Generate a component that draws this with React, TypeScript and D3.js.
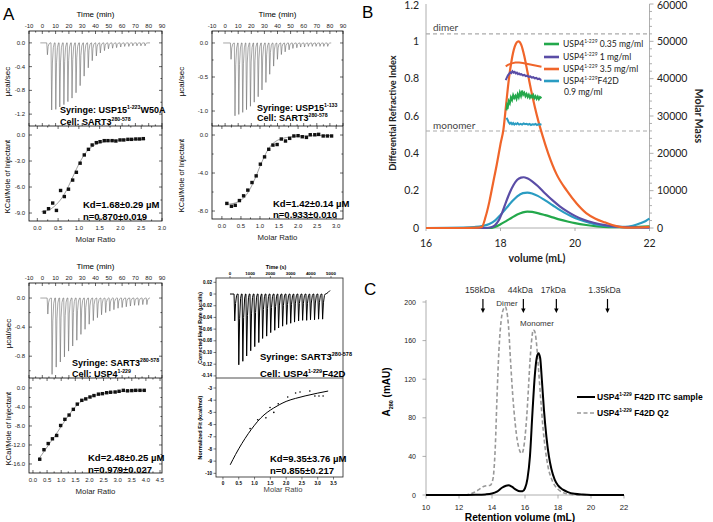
import React from "react";
import * as d3 from "d3";

type Pt = [number, number];

const SANS = "'Liberation Sans', Arial, Helvetica, sans-serif";
const CALI = "Lato, 'Open Sans', sans-serif";

/* ================= Panel A : ITC data ================= */
// A1  Syringe USP15(1-223)W50A / Cell SART3(280-578)
const a1InjTime = [3.5, 6.7, 9.8, 12.8, 15.9, 18.9, 22.0, 25.0, 28.1, 31.1, 34.2, 37.2, 40.3, 43.3, 46.4, 49.4, 52.5, 55.5, 58.6, 61.6, 64.7, 67.7, 70.8, 73.8, 76.9];
const a1InjPeak = [-0.2, -1.13, -1.12, -1.08, -1.04, -0.99, -0.93, -0.84, -0.72, -0.56, -0.42, -0.3, -0.22, -0.17, -0.13, -0.1, -0.09, -0.08, -0.07, -0.06, -0.06, -0.05, -0.05, -0.05, -0.05];
const a1Ratio = [0.17, 0.27, 0.37, 0.46, 0.56, 0.65, 0.75, 0.85, 0.94, 1.03, 1.13, 1.23, 1.32, 1.42, 1.51, 1.61, 1.7, 1.8, 1.89, 1.99, 2.08, 2.18, 2.27, 2.37, 2.46, 2.55];
const a1Heat = [-8.9, -8.5, -7.85, -8.7, -6.4, -7.1, -6.25, -5.2, -4.3, -3.25, -2.3, -1.65, -1.15, -0.88, -0.77, -0.65, -0.65, -0.65, -0.69, -0.57, -0.57, -0.5, -0.5, -0.46, -0.46, -0.42];
const a1FitRatio = [0.1, 0.3, 0.5, 0.6, 0.7, 0.8, 0.9, 1.0, 1.1, 1.2, 1.3, 1.4, 1.6, 1.8, 2.0, 2.3, 2.6];
const a1FitHeat = [-8.85, -8.6, -7.8, -7.2, -6.4, -5.4, -4.35, -3.35, -2.5, -1.85, -1.4, -1.1, -0.8, -0.65, -0.58, -0.52, -0.5];

// A2  Syringe USP15(1-133) / Cell SART3(280-578)
const a2InjTime = [4.2, 7.2, 10.1, 13.1, 16.0, 19.0, 21.9, 24.9, 27.8, 30.8, 33.7, 36.7, 39.6, 42.6, 45.5, 48.5, 51.4, 54.4, 57.3, 60.3, 63.2, 66.2, 69.1, 72.1, 75.0, 78.0];
const a2InjPeak = [-0.24, -1.07, -1.05, -1.02, -0.98, -0.93, -0.87, -0.79, -0.69, -0.58, -0.46, -0.34, -0.24, -0.17, -0.13, -0.1, -0.08, -0.07, -0.06, -0.06, -0.05, -0.05, -0.05, -0.05, -0.05, -0.05];
const a2Ratio = [0.13, 0.25, 0.35, 0.46, 0.57, 0.68, 0.79, 0.9, 1.01, 1.12, 1.23, 1.34, 1.45, 1.56, 1.67, 1.78, 1.89, 2.0, 2.11, 2.22, 2.32, 2.44, 2.54, 2.66, 2.77, 2.88];
const a2Heat = [-7.2, -7.5, -7.4, -6.9, -6.4, -5.8, -5.0, -4.3, -3.07, -2.3, -1.5, -1.06, -1.0, -0.42, -0.63, -0.35, -0.1, -0.07, -0.18, -0.25, 0.03, 0.03, 0.07, -0.1, -0.1, -0.1];
const a2FitRatio = [0.1, 0.3, 0.5, 0.6, 0.7, 0.8, 0.9, 1.0, 1.1, 1.2, 1.3, 1.4, 1.6, 1.8, 2.0, 2.5, 2.9];
const a2FitHeat = [-7.3, -7.2, -6.85, -6.5, -5.95, -5.2, -4.3, -3.3, -2.4, -1.6, -1.05, -0.7, -0.35, -0.2, -0.12, -0.07, -0.05];

// A3  Syringe SART3(280-578) / Cell USP4(1-229)
const a3InjTime = [3.8, 7.0, 10.1, 13.2, 16.3, 19.4, 22.5, 25.6, 28.7, 31.8, 34.9, 38.0, 41.1, 44.2, 47.3, 50.4, 53.5, 56.6, 59.7, 62.8, 65.9, 69.0, 72.1, 75.2, 78.3];
const a3InjPeak = [-0.22, -1.05, -0.95, -0.88, -0.81, -0.73, -0.66, -0.58, -0.5, -0.43, -0.36, -0.31, -0.27, -0.23, -0.2, -0.18, -0.16, -0.14, -0.13, -0.12, -0.11, -0.1, -0.1, -0.09, -0.09];
const a3Ratio = [0.24, 0.39, 0.54, 0.69, 0.84, 0.98, 1.13, 1.28, 1.43, 1.57, 1.73, 1.87, 2.02, 2.16, 2.32, 2.46, 2.61, 2.75, 2.91, 3.05, 3.2, 3.35, 3.5, 3.64, 3.79, 3.94];
const a3Heat = [-15.0, -13.0, -11.7, -10.7, -10.0, -7.9, -6.6, -5.7, -4.5, -3.4, -2.6, -2.3, -1.9, -1.6, -1.3, -1.2, -1.0, -0.9, -0.85, -0.7, -0.5, -0.6, -0.55, -0.5, -0.5, -0.5];
const a3FitRatio = [0.2, 0.4, 0.6, 0.8, 1.0, 1.2, 1.4, 1.6, 1.8, 2.0, 2.3, 2.6, 3.0, 3.5, 3.95];
const a3FitHeat = [-15.0, -13.3, -11.6, -9.9, -8.1, -6.3, -4.7, -3.4, -2.5, -1.9, -1.4, -1.05, -0.8, -0.6, -0.5];

// A4  Syringe SART3(280-578) / Cell USP4(1-229)F42D  (time in s)
const a4InjTime = [210, 410, 610, 800, 1000, 1200, 1400, 1590, 1790, 1990, 2190, 2380, 2580, 2780, 2980, 3170, 3370, 3570, 3770, 3960, 4160, 4360, 4560];
const a4InjPeak = [-0.046, -0.121, -0.115, -0.106, -0.097, -0.09, -0.083, -0.076, -0.072, -0.066, -0.062, -0.058, -0.055, -0.052, -0.05, -0.048, -0.046, -0.045, -0.045, -0.044, -0.044, -0.043, -0.043];
const a4Ratio = [0.86, 1.1, 1.36, 1.49, 1.61, 1.75, 2.05, 2.3, 2.44, 2.75, 2.91, 3.04, 3.17];
const a4Heat = [-6.33, -5.6, -5.45, -4.6, -5.0, -4.3, -3.74, -3.41, -3.33, -3.25, -3.66, -3.66, -3.66];
const a4FitRatio = [0.23, 0.4, 0.6, 0.8, 1.0, 1.2, 1.4, 1.6, 1.8, 2.0, 2.3, 2.6, 3.0, 3.33];
const a4FitHeat = [-9.3, -8.45, -7.55, -6.75, -6.05, -5.45, -5.0, -4.65, -4.35, -4.1, -3.85, -3.65, -3.42, -3.25];

const timeTicks = [-10, 0, 10, 20, 30, 40, 50, 60, 70, 80, 90];
const a4TimeTicks = [0, 1000, 2000, 3000, 4000, 5000];
const a4RateTicks = [0.02, 0, -0.02, -0.04, -0.06, -0.08, -0.1, -0.12, -0.14];
const a4RateLabels = ["0.02", "0", "-0.02", "-0.04", "-0.06", "-0.08", "-0.10", "-0.12", "-0.14"];
const a4FitTicks = [-3, -4, -5, -6, -7, -8, -9, -10];
const a4RatioTicks = [0, 0.5, 1, 1.5, 2, 2.5, 3, 3.5];
const a4RatioLabels = ["0", "0.5", "1.0", "1.5", "2.0", "2.5", "3.0", "3.5"];

/* ================= Panel B : SEC-MALS data ================= */
const riGreen: Pt[] = [[16, 0], [17.7, 0], [17.85, 0.006], [18.0, 0.02], [18.15, 0.037], [18.3, 0.055], [18.45, 0.072], [18.6, 0.084], [18.72, 0.088], [18.85, 0.086], [19.0, 0.08], [19.2, 0.069], [19.4, 0.057], [19.6, 0.045], [19.8, 0.035], [20.0, 0.026], [20.3, 0.016], [20.6, 0.009], [20.9, 0.005], [21.3, 0.004], [21.7, 0.006], [22, 0.009]];
const riPurple: Pt[] = [[16, 0], [17.6, 0], [17.75, 0.004], [17.85, 0.015], [17.95, 0.04], [18.05, 0.085], [18.15, 0.14], [18.25, 0.19], [18.35, 0.23], [18.45, 0.258], [18.55, 0.27], [18.62, 0.272], [18.72, 0.266], [18.85, 0.25], [19.0, 0.225], [19.2, 0.185], [19.4, 0.148], [19.6, 0.115], [19.8, 0.088], [20.0, 0.065], [20.2, 0.047], [20.5, 0.028], [20.8, 0.015], [21.1, 0.007], [21.5, 0.003], [22, 0.002]];
const riOrange: Pt[] = [[16, 0], [17.0, 0], [17.4, 0.002], [17.5, 0.006], [17.6, 0.06], [17.7, 0.14], [17.8, 0.24], [17.9, 0.34], [18.0, 0.45], [18.08, 0.53], [18.15, 0.66], [18.22, 0.79], [18.3, 0.9], [18.38, 0.97], [18.48, 1.0], [18.56, 0.98], [18.64, 0.92], [18.72, 0.84], [18.82, 0.74], [18.92, 0.65], [19.02, 0.57], [19.12, 0.5], [19.28, 0.4], [19.5, 0.29], [19.78, 0.2], [20.05, 0.13], [20.3, 0.08], [20.55, 0.05], [20.8, 0.03], [21.0, 0.016], [21.2, 0.006], [21.4, 0.002], [21.7, 0.003], [22, 0.006]];
const riTeal: Pt[] = [[16, 0], [17.0, 0.002], [17.3, 0.005], [17.5, 0.01], [17.7, 0.022], [17.85, 0.04], [18.0, 0.07], [18.15, 0.105], [18.3, 0.14], [18.45, 0.17], [18.6, 0.187], [18.72, 0.19], [18.85, 0.185], [19.0, 0.172], [19.2, 0.148], [19.4, 0.122], [19.6, 0.096], [19.8, 0.073], [20.0, 0.054], [20.25, 0.036], [20.5, 0.022], [20.8, 0.012], [21.1, 0.006], [21.35, 0.006], [21.55, 0.012], [21.75, 0.025], [21.9, 0.038], [22, 0.05]];

const mmOrange: Pt[] = [[18.14, 43300], [18.2, 43700], [18.3, 44100], [18.4, 44300], [18.5, 44300], [18.6, 44200], [18.7, 44000], [18.8, 43800], [18.9, 43600], [19.0, 43400], [19.1, 43200]];
const mmPurple: Pt[] = [[18.14, 39600], [18.17, 40300], [18.2, 40900], [18.23, 41300], [18.26, 41700], [18.29, 41500], [18.32, 42000], [18.35, 41600], [18.38, 41800], [18.41, 41400], [18.44, 41600], [18.47, 41200], [18.5, 41400], [18.53, 41100], [18.56, 41200], [18.6, 40900], [18.64, 41000], [18.68, 40700], [18.72, 40800], [18.76, 40500], [18.8, 40600], [18.84, 40300], [18.88, 40400], [18.92, 40100], [18.96, 40200], [19.0, 39900], [19.04, 40000], [19.08, 39700], [19.1, 39800]];
const mmGreen: Pt[] = [[18.16, 31500], [18.18, 33000], [18.2, 32600], [18.22, 34000], [18.25, 33400], [18.28, 35000], [18.31, 34300], [18.34, 35600], [18.37, 34800], [18.4, 35400], [18.43, 34600], [18.46, 35800], [18.49, 35000], [18.52, 36300], [18.55, 35400], [18.58, 36800], [18.61, 35700], [18.64, 36200], [18.67, 35300], [18.7, 35900], [18.73, 35100], [18.76, 35700], [18.79, 34900], [18.82, 35500], [18.85, 35000], [18.88, 35600], [18.91, 34800], [18.94, 35300], [18.97, 34600], [19.0, 35200], [19.03, 34500], [19.06, 35100], [19.1, 34800]];
const mmTeal: Pt[] = [[18.16, 29500], [18.19, 29000], [18.22, 28300], [18.25, 27900], [18.28, 28200], [18.31, 27800], [18.34, 28100], [18.37, 27700], [18.4, 28000], [18.43, 27800], [18.46, 28100], [18.5, 27700], [18.54, 27900], [18.58, 27700], [18.62, 28000], [18.66, 27800], [18.7, 27900], [18.74, 27700], [18.78, 27900], [18.82, 27600], [18.86, 27800], [18.9, 27700], [18.94, 27900], [18.98, 27600], [19.02, 27800], [19.06, 27700], [19.1, 27800]];

const bDimerMass = 52000;
const bMonomerMass = 26000;
const bLeftTicks = [0, 0.2, 0.4, 0.6, 0.8, 1, 1.2];
const bLeftLabels = ["0", "0.2", "0.4", "0.6", "0.8", "1", "1.2"];
const bRightTicks = [0, 10000, 20000, 30000, 40000, 50000, 60000];
const bXTicks = [16, 18, 20, 22];
const bLegendConc = [" 0.35 mg/ml", " 1 mg/ml", " 3.5 mg/ml", "F42D"];

/* ================= Panel C : SEC data ================= */
const secItc: Pt[] = [[10, 0], [12, 0], [13, 0.2], [13.6, 0.6], [14.0, 1.5], [14.3, 3.5], [14.6, 7.5], [14.85, 9.6], [15.0, 10], [15.2, 8.6], [15.45, 5.5], [15.7, 3.8], [15.85, 3.9], [16.0, 7], [16.15, 17], [16.3, 40], [16.45, 85], [16.6, 125], [16.72, 143], [16.82, 147], [16.92, 142], [17.02, 120], [17.15, 88], [17.3, 60], [17.45, 40], [17.6, 27], [17.8, 16], [18.0, 10], [18.3, 5.5], [18.6, 3], [19.0, 1.2], [19.5, 0.4], [20, 0.1], [22, 0]];
const secQ2: Pt[] = [[10, 0], [12.2, 0], [12.6, 0.8], [12.9, 2.5], [13.2, 5.5], [13.45, 8.5], [13.65, 9.6], [13.9, 10.2], [14.0, 13], [14.1, 22], [14.2, 50], [14.3, 100], [14.42, 150], [14.55, 180], [14.7, 193], [14.8, 195], [14.9, 190], [15.0, 175], [15.12, 140], [15.25, 105], [15.4, 75], [15.55, 55], [15.7, 45], [15.8, 43], [15.9, 47], [16.0, 60], [16.1, 80], [16.2, 108], [16.3, 138], [16.4, 160], [16.5, 171], [16.58, 170], [16.68, 160], [16.8, 135], [16.95, 100], [17.1, 68], [17.25, 45], [17.4, 29], [17.6, 17], [17.8, 10], [18.0, 6], [18.3, 2.5], [18.6, 1], [19, 0.3], [20, 0], [22, 0]];
const markerVol = [13.45, 15.9, 17.9, 21.0];
const markerLabel = ["158kDa", "44kDa", "17kDa", "1.35kDa"];
const cYTicks = [0, 40, 80, 120, 160, 200];
const cXTicks = [10, 12, 14, 16, 18, 20, 22];

/* ================= helpers ================= */
function segPath(list: number[][]) {
  return list.map((s) => `M${s[0]},${s[1]}L${s[2]},${s[3]}`).join("");
}

function Rich({ x, y, parts, size, weight = "normal", fill = "#000", anchor = "start", family = SANS }: any) {
  let cur = 0;
  return (
    <text x={x} y={y} fontSize={size} fontWeight={weight} fill={fill} textAnchor={anchor} fontFamily={family}>
      {parts.map((p: any, i: number) => {
        const target = p.sup ? -size * 0.42 : 0;
        const dy = target - cur;
        cur = target;
        return (
          <tspan key={i} dy={dy} fontSize={p.sup ? size * 0.58 : size}>
            {p.t}
          </tspan>
        );
      })}
    </text>
  );
}

function Rot({ x, y, children, size, weight = "normal", angle = -90, family = SANS, fill = "#000" }: any) {
  return (
    <text
      transform={`translate(${x},${y}) rotate(${angle})`}
      textAnchor="middle"
      dominantBaseline="central"
      fontSize={size}
      fontWeight={weight}
      fontFamily={family}
      fill={fill}
    >
      {children}
    </text>
  );
}

/* ================= Origin-style ITC panel ================= */
function OriginITC(p: any) {
  const { l, r, t, m, b } = p;
  const tx = d3.scaleLinear().domain([-10, 90]).range([l, r]);
  const py = d3.scaleLinear().domain(p.pDom).range([m, t]);
  const rx = d3.scaleLinear().domain(p.rDom).range([l, r]);
  const ky = d3.scaleLinear().domain(p.kDom).range([b, m]);

  const trace: Pt[] = [[-1.5, 0]];
  p.times.forEach((tt: number, i: number) => {
    const d = p.peaks[i];
    trace.push([tt - 0.15, 0], [tt + 0.35, d], [tt + 0.9, d * 0.3], [tt + 1.6, d * 0.07], [tt + 2.4, 0]);
  });
  trace.push([81, 0]);
  const tracePath = d3.line<Pt>().x((d) => tx(d[0])).y((d) => py(d[1]))(trace) || "";
  const fitPts: Pt[] = p.fitR.map((v: number, i: number) => [v, p.fitH[i]] as Pt);
  const fitPath = d3.line<Pt>().curve(d3.curveMonotoneX).x((d) => rx(d[0])).y((d) => ky(d[1]))(fitPts) || "";

  const L = 3, S = 1.6;
  const ticks: number[][] = [];
  timeTicks.forEach((v) => ticks.push([tx(v), t, tx(v), t + L], [tx(v), m, tx(v), m - L]));
  timeTicks.slice(0, -1).forEach((v) => ticks.push([tx(v + 5), t, tx(v + 5), t + S], [tx(v + 5), m, tx(v + 5), m - S]));
  p.pMaj.forEach((v: number) => ticks.push([l, py(v), l + L, py(v)], [r, py(v), r - L, py(v)]));
  p.pMin.forEach((v: number) => ticks.push([l, py(v), l + S, py(v)], [r, py(v), r - S, py(v)]));
  p.kMaj.forEach((v: number) => ticks.push([l, ky(v), l + L, ky(v)], [r, ky(v), r - L, ky(v)]));
  p.kMin.forEach((v: number) => ticks.push([l, ky(v), l + S, ky(v)], [r, ky(v), r - S, ky(v)]));
  p.rMaj.forEach((v: number) => ticks.push([rx(v), b, rx(v), b - L], [rx(v), m, rx(v), m + L]));
  p.rMaj.slice(0, -1).forEach((v: number) =>
    ticks.push([rx(v + 0.25), b, rx(v + 0.25), b - S], [rx(v + 0.25), m, rx(v + 0.25), m + S])
  );

  const lab = "#222";
  return (
    <g fontFamily={SANS}>
      <path d={tracePath} fill="none" stroke="#6a6a6a" strokeWidth={0.6} />
      <path d={fitPath} fill="none" stroke="#777" strokeWidth={0.7} />
      {p.ratio.map((v: number, i: number) => (
        <rect key={i} x={rx(v) - 1.7} y={ky(p.heat[i]) - 1.7} width={3.4} height={3.4} fill="#111" />
      ))}
      <rect x={l} y={t} width={r - l} height={b - t} fill="none" stroke="#000" strokeWidth={0.8} />
      <line x1={l} x2={r} y1={m} y2={m} stroke="#000" strokeWidth={0.8} />
      <path d={segPath(ticks)} stroke="#000" strokeWidth={0.6} />
      {timeTicks.map((v) => (
        <text key={"t" + v} x={tx(v)} y={t - 3.5} fontSize={6} textAnchor="middle" fill={lab}>
          {v}
        </text>
      ))}
      {p.pMaj.map((v: number) => (
        <text key={"p" + v} x={l - 4} y={py(v) + 2} fontSize={6} textAnchor="end" fill={lab}>
          {v.toFixed(1)}
        </text>
      ))}
      {p.kMaj.map((v: number) => (
        <text key={"k" + v} x={l - 4} y={ky(v) + 2} fontSize={6} textAnchor="end" fill={lab}>
          {v.toFixed(1)}
        </text>
      ))}
      {p.rMaj.map((v: number) => (
        <text key={"r" + v} x={rx(v)} y={b + 8.5} fontSize={6} textAnchor="middle" fill={lab}>
          {v.toFixed(1)}
        </text>
      ))}
      <text x={(l + r) / 2} y={t - 14} fontSize={8} textAnchor="middle">Time (min)</text>
      <text x={(l + r) / 2} y={b + 21} fontSize={7.8} textAnchor="middle" fill="#222">Molar Ratio</text>
      <Rot x={p.yTitleX} y={(t + m) / 2 + 3} size={8}>µcal/sec</Rot>
      <Rot x={p.yTitleX} y={(m + b) / 2 + 3} size={7.5}>KCal/Mole of Injectant</Rot>
      <Rich x={p.syrX} y={p.syrY} size={9} weight="bold" parts={p.syr} />
      <Rich x={p.syrX} y={p.cellY} size={9} weight="bold" parts={p.cell} />
      <text x={p.kdX} y={p.kdY} fontSize={9.5} fontWeight="bold">{p.kd}</text>
      <text x={p.kdX} y={p.nY} fontSize={9.5} fontWeight="bold">{p.n}</text>
    </g>
  );
}

/* ================= NanoAnalyze-style ITC panel ================= */
function NanoITC() {
  const l = 216, r = 343, t = 278, m = 378, b = 477;
  const tx = d3.scaleLinear().domain([-693, 5594]).range([l, r]);
  const py = d3.scaleLinear().domain([-0.1436, 0.0274]).range([m, t]);
  const rx = d3.scaleLinear().domain([-0.22, 3.8]).range([l, r]);
  const ky = d3.scaleLinear().domain([-10.3, -2.18]).range([b, m]);

  const trace: Pt[] = [[0, 0]];
  a4InjTime.forEach((tt, i) => {
    const d = a4InjPeak[i];
    trace.push([tt - 10, 0], [tt + 25, d], [tt + 65, d * 0.35], [tt + 115, d * 0.06], [tt + 155, 0]);
  });
  trace.push([4760, 0.0004], [4850, 0.0025], [4950, 0.006]);
  const tracePath = d3.line<Pt>().x((d) => tx(d[0])).y((d) => py(d[1]))(trace) || "";
  const fitPts: Pt[] = a4FitRatio.map((v, i) => [v, a4FitHeat[i]] as Pt);
  const fitPath = d3.line<Pt>().curve(d3.curveMonotoneX).x((d) => rx(d[0])).y((d) => ky(d[1]))(fitPts) || "";

  const ticks: number[][] = [];
  a4TimeTicks.forEach((v) => ticks.push([tx(v), t, tx(v), t - 2]));
  a4RateTicks.forEach((v) => ticks.push([l, py(v), l - 2.5, py(v)]));
  a4FitTicks.forEach((v) => ticks.push([l, ky(v), l - 2.5, ky(v)]));
  a4RatioTicks.forEach((v) => ticks.push([rx(v), b, rx(v), b + 2.5]));

  return (
    <g fontFamily={SANS}>
      <path d={tracePath} fill="none" stroke="#000" strokeWidth={1} />
      <path d={fitPath} fill="none" stroke="#000" strokeWidth={1} />
      {a4Ratio.map((v, i) => (
        <circle key={i} cx={rx(v)} cy={ky(a4Heat[i])} r={0.8} fill="#000" />
      ))}
      <rect x={l} y={t} width={r - l} height={b - t} fill="none" stroke="#222" strokeWidth={0.8} />
      <line x1={l} x2={r} y1={m} y2={m} stroke="#222" strokeWidth={0.8} />
      <path d={segPath(ticks)} stroke="#222" strokeWidth={0.6} />
      {a4TimeTicks.map((v) => (
        <text key={"t" + v} x={tx(v)} y={t - 3} fontSize={4.4} textAnchor="middle" fontWeight="bold">{v}</text>
      ))}
      {a4RateTicks.map((v, i) => (
        <text key={"p" + i} x={l - 4} y={py(v) + 1.6} fontSize={4.6} textAnchor="end" fontWeight="bold">{a4RateLabels[i]}</text>
      ))}
      {a4FitTicks.map((v) => (
        <text key={"k" + v} x={l - 4} y={ky(v) + 1.6} fontSize={4.6} textAnchor="end" fontWeight="bold">{v}</text>
      ))}
      {a4RatioTicks.map((v, i) => (
        <text key={"r" + v} x={rx(v)} y={b + 7.5} fontSize={4.6} textAnchor="middle" fontWeight="bold">{a4RatioLabels[i]}</text>
      ))}
      <text x={276} y={268.5} fontSize={5.4} textAnchor="middle" fontWeight="bold">Time (s)</text>
      <text x={283} y={492} fontSize={7.6} textAnchor="middle" fill="#444">Molar Ratio</text>
      <Rot x={200} y={(t + m) / 2} size={5.4} weight="bold">Corrected Heat Rate (µcal/s)</Rot>
      <Rot x={200} y={(m + b) / 2} size={5.4} weight="bold">Normalized Fit (kcal/mol)</Rot>
      <Rich x={260} y={360} size={9.5} weight="bold" parts={[{ t: "Syringe: SART3" }, { t: "280-578", sup: true }]} />
      <Rich x={260} y={376.5} size={9.5} weight="bold" parts={[{ t: "Cell: USP4" }, { t: "1-229", sup: true }, { t: "F42D" }]} />
      <text x={270} y={462} fontSize={9.5} fontWeight="bold">Kd=9.35±3.76 µM</text>
      <text x={270} y={474} fontSize={9.5} fontWeight="bold">n=0.855±0.217</text>
    </g>
  );
}

/* ================= Panel B ================= */
function PanelB() {
  const x = d3.scaleLinear().domain([16, 22]).range([426, 649.5]);
  const yL = d3.scaleLinear().domain([0, 1.2]).range([228, 4]);
  const yR = d3.scaleLinear().domain([0, 60000]).range([228, 4]);
  const ri = d3.line<Pt>().curve(d3.curveMonotoneX).x((d) => x(d[0])).y((d) => yL(d[1]));
  const mm = d3.line<Pt>().x((d) => x(d[0])).y((d) => yR(d[1]));
  const cols = { green: "#23a84b", purple: "#5a4da6", orange: "#f0652a", teal: "#2a9cc2" };
  const legendCols = [cols.green, cols.purple, cols.orange, cols.teal];
  const legendY = [44, 57, 69, 81];

  const rTicks: number[][] = [];
  d3.range(0, 60001, 2000).forEach((v) => {
    const major = v % 10000 === 0;
    rTicks.push([649.5, yR(v), 649.5 + (major ? 4 : 2.5), yR(v)]);
  });
  bXTicks.forEach((v) => rTicks.push([x(v), 228, x(v), 231]));

  return (
    <g fontFamily={CALI}>
      <text x={362} y={18} fontSize={17} fontFamily={SANS}>B</text>
      <line x1={426} x2={426} y1={4} y2={228} stroke="#9a9a9a" strokeWidth={0.8} />
      <line x1={649.5} x2={649.5} y1={4} y2={228} stroke="#9a9a9a" strokeWidth={0.8} />
      <line x1={426} x2={649.5} y1={228} y2={228} stroke="#9a9a9a" strokeWidth={0.8} />
      <path d={segPath(rTicks)} stroke="#9a9a9a" strokeWidth={0.8} />
      <line x1={426} x2={649.5} y1={yR(bDimerMass)} y2={yR(bDimerMass)} stroke="#aaa" strokeWidth={1.1} strokeDasharray="4,3" />
      <line x1={426} x2={649.5} y1={yR(bMonomerMass)} y2={yR(bMonomerMass)} stroke="#aaa" strokeWidth={1.1} strokeDasharray="4,3" />
      <text x={433} y={31} fontSize={10} fill="#444">dimer</text>
      <text x={433} y={128.5} fontSize={10} fill="#444">monomer</text>

      <path d={ri(riGreen) || ""} fill="none" stroke={cols.green} strokeWidth={2.2} />
      <path d={ri(riTeal) || ""} fill="none" stroke={cols.teal} strokeWidth={2.2} />
      <path d={ri(riPurple) || ""} fill="none" stroke={cols.purple} strokeWidth={2.2} />
      <path d={ri(riOrange) || ""} fill="none" stroke={cols.orange} strokeWidth={2.2} />
      <path d={mm(mmOrange) || ""} fill="none" stroke={cols.orange} strokeWidth={2} />
      <path d={mm(mmPurple) || ""} fill="none" stroke={cols.purple} strokeWidth={2} />
      <path d={mm(mmGreen) || ""} fill="none" stroke={cols.green} strokeWidth={2} />
      <path d={mm(mmTeal) || ""} fill="none" stroke={cols.teal} strokeWidth={2} />

      {bLeftTicks.map((v, i) => (
        <text key={"l" + i} x={419} y={Math.max(yL(v) + 3.6, 8.5)} fontSize={10.5} textAnchor="end" fill="#222">{bLeftLabels[i]}</text>
      ))}
      {bRightTicks.map((v) => (
        <text key={"r" + v} x={657} y={Math.max(yR(v) + 3.6, 8.5)} fontSize={10.5} fill="#222">{v}</text>
      ))}
      {bXTicks.map((v) => (
        <text key={"x" + v} x={x(v)} y={247} fontSize={10.5} textAnchor="middle" fill="#222">{v}</text>
      ))}
      <text x={537} y={262} fontSize={10.5} fontWeight="bold" textAnchor="middle" fill="#222">volume (mL)</text>
      <Rot x={392} y={113} size={9.2} weight="bold" family={CALI} fill="#222">Differential Refractive Index</Rot>
      <Rot x={699} y={116} size={10.5} weight="bold" angle={90} family={CALI} fill="#222">Molar Mass</Rot>

      {legendCols.map((c, i) => (
        <g key={i}>
          <line x1={544} x2={559} y1={legendY[i]} y2={legendY[i]} stroke={c} strokeWidth={2.6} />
          <Rich x={563} y={legendY[i] + 3} size={8.6} family={CALI} fill="#222" parts={[{ t: "USP4" }, { t: "1-229", sup: true }, { t: bLegendConc[i] }]} />
        </g>
      ))}
      <text x={564} y={94.5} fontSize={8.6} fill="#222">0.9 mg/ml</text>
    </g>
  );
}

/* ================= Panel C ================= */
function PanelC() {
  const x = d3.scaleLinear().domain([10, 22]).range([426, 624]);
  const y = d3.scaleLinear().domain([0, 200]).range([495, 302]);
  const line = d3.line<Pt>().curve(d3.curveMonotoneX).x((d) => x(d[0])).y((d) => y(d[1]));
  const ticks: number[][] = [];
  cYTicks.forEach((v) => ticks.push([426, y(v), 422.5, y(v)]));
  cXTicks.forEach((v) => ticks.push([x(v), 495, x(v), 498.5]));
  return (
    <g fontFamily={SANS}>
      <text x={364} y={295} fontSize={17}>C</text>
      <line x1={426} x2={426} y1={300} y2={495} stroke="#999" strokeWidth={0.8} />
      <line x1={426} x2={624} y1={495} y2={495} stroke="#999" strokeWidth={0.8} />
      <path d={segPath(ticks)} stroke="#999" strokeWidth={0.8} />
      {cYTicks.map((v) => (
        <text key={"y" + v} x={416} y={y(v) + 2.5} fontSize={7} textAnchor="end" fill="#222">{v}</text>
      ))}
      {cXTicks.map((v) => (
        <text key={"x" + v} x={x(v)} y={510} fontSize={7.6} textAnchor="middle" fill="#222">{v}</text>
      ))}
      <text x={520} y={521} fontSize={10.2} fontWeight="bold" textAnchor="middle">Retention volume (mL)</text>
      <text transform="translate(390,392) rotate(-90)" textAnchor="middle" fontSize={10} fontWeight="bold">
        <tspan>A</tspan>
        <tspan fontSize={5.5} dy={2.5}>280</tspan>
        <tspan dy={-2.5}> (mAU)</tspan>
      </text>

      <path d={line(secQ2) || ""} fill="none" stroke="#999" strokeWidth={1.6} strokeDasharray="4,2.5" />
      <path d={line(secItc) || ""} fill="none" stroke="#000" strokeWidth={2} />

      {markerVol.map((v, i) => (
        <g key={i}>
          <text x={x(v) - 3} y={293} fontSize={8.7} textAnchor="middle" fill="#333">{markerLabel[i]}</text>
          <line x1={x(v)} x2={x(v)} y1={299} y2={309} stroke="#000" strokeWidth={1.2} />
          <path d={`M${x(v) - 2.2},${308.5}L${x(v) + 2.2},${308.5}L${x(v)},${313}Z`} fill="#000" />
        </g>
      ))}
      <text x={507} y={306} fontSize={8} textAnchor="middle" fill="#333">Dimer</text>
      <text x={537} y={326} fontSize={8} textAnchor="middle" fill="#333">Monomer</text>

      <line x1={577} x2={595} y1={397} y2={397} stroke="#000" strokeWidth={2} />
      <Rich x={597} y={400} size={8.5} weight="bold" parts={[{ t: "USP4" }, { t: "1-229", sup: true }, { t: " F42D ITC sample" }]} />
      <line x1={577} x2={595} y1={413} y2={413} stroke="#999" strokeWidth={1.6} strokeDasharray="4,2.5" />
      <Rich x={597} y={416} size={8.5} weight="bold" parts={[{ t: "USP4" }, { t: "1-229", sup: true }, { t: " F42D Q2" }]} />
    </g>
  );
}

/* ================= App ================= */
export default function App() {
  const tenths = [0, 0.5, 1, 1.5, 2, 2.5, 3];
  return (
    <svg
      width={713}
      height={522}
      viewBox="0 0 713 522"
      style={{ position: "absolute", left: 0, top: 0, background: "#fff" }}
      fontFamily={SANS}
    >
      <rect width={713} height={522} fill="#fff" />
      <text x={3} y={20} fontSize={17} fontFamily={SANS}>A</text>
      <OriginITC
        l={29} r={162} t={31} m={126} b={221}
        pDom={[-1.4, 0.2]} pMaj={[0, -0.4, -0.8, -1.2]} pMin={[-0.2, -0.6, -1.0]}
        kDom={[-9.92, 1.04]} kMaj={[0, -3, -6, -9]} kMin={[-1.5, -4.5, -7.5]}
        rDom={[-0.2, 3.0]} rMaj={tenths}
        times={a1InjTime} peaks={a1InjPeak} ratio={a1Ratio} heat={a1Heat} fitR={a1FitRatio} fitH={a1FitHeat}
        yTitleX={7}
        syrX={60} syrY={113} cellY={125}
        syr={[{ t: "Syringe: USP15" }, { t: "1-223", sup: true }, { t: "W50A" }]}
        cell={[{ t: "Cell: SART3" }, { t: "280-578", sup: true }]}
        kdX={83} kdY={207.5} nY={219.5} kd="Kd=1.68±0.29 µM" n="n=0.870±0.019"
      />
      <OriginITC
        l={212} r={343} t={31} m={126} b={219}
        pDom={[-1.22, 0.176]} pMaj={[0, -0.5, -1.0]} pMin={[-0.25, -0.75]}
        kDom={[-8.84, 0.95]} kMaj={[0, -4, -8]} kMin={[-2, -6]}
        rDom={[-0.26, 3.18]} rMaj={tenths}
        times={a2InjTime} peaks={a2InjPeak} ratio={a2Ratio} heat={a2Heat} fitR={a2FitRatio} fitH={a2FitHeat}
        yTitleX={181}
        syrX={257} syrY={111} cellY={120.5}
        syr={[{ t: "Syringe: USP15" }, { t: "1-133", sup: true }]}
        cell={[{ t: "Cell: SART3" }, { t: "280-578", sup: true }]}
        kdX={273} kdY={207} nY={218} kd="Kd=1.42±0.14 µM" n="n=0.933±0.010"
      />
      <OriginITC
        l={29} r={162} t={283} m={378} b={473}
        pDom={[-1.1, 0.207]} pMaj={[0, -0.4, -0.8]} pMin={[-0.2, -0.6, -1.0]}
        kDom={[-17.9, 2.1]} kMaj={[0, -4, -8, -12, -16]} kMin={[-2, -6, -10, -14]}
        rDom={[-0.14, 4.57]} rMaj={[0, 0.5, 1, 1.5, 2, 2.5, 3, 3.5, 4, 4.5]}
        times={a3InjTime} peaks={a3InjPeak} ratio={a3Ratio} heat={a3Heat} fitR={a3FitRatio} fitH={a3FitHeat}
        yTitleX={8}
        syrX={72} syrY={366} cellY={376.5}
        syr={[{ t: "Syringe: SART3" }, { t: "280-578", sup: true }]}
        cell={[{ t: "Cell: USP4" }, { t: "1-229", sup: true }]}
        kdX={88} kdY={460.5} nY={472.5} kd="Kd=2.48±0.25 µM" n="n=0.979±0.027"
      />
      <NanoITC />
      <PanelB />
      <PanelC />
    </svg>
  );
}
